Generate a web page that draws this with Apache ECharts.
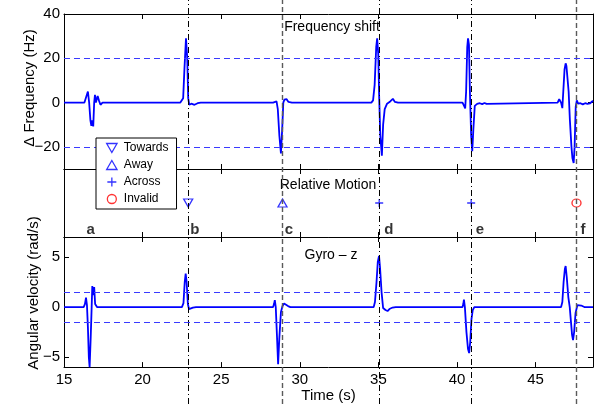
<!DOCTYPE html>
<html>
<head>
<meta charset="utf-8">
<title>Frequency shift / Gyro</title>
<script src="https://cdn.jsdelivr.net/npm/echarts@6/dist/echarts.min.js"></script>
<style>
  html, body { margin: 0; padding: 0; background: #fff; }
  #chart { width: 594px; height: 404px; }
</style>
</head>
<body>
<div id="chart"></div>
<script>
// frequency shift trace, time (s) / shift (Hz)
const freqTime = [15.0, 16.30, 16.40, 16.52, 16.60, 16.68, 16.74, 16.80, 16.86, 16.92, 16.97, 17.03, 17.08, 17.14, 17.22, 17.32, 17.45,
  22.40, 22.50, 22.58, 22.66, 22.76, 22.84, 22.90, 22.97, 23.10, 23.30, 23.50, 23.70,
  28.30, 28.41, 28.52, 28.60, 28.70, 28.80, 28.88, 28.95, 29.02, 29.15, 29.28, 29.50,
  34.55, 34.66, 34.76, 34.86, 34.92, 34.99, 35.05, 35.12, 35.22, 35.30, 35.40, 35.55, 35.75, 35.92, 36.05, 36.25,
  40.35, 40.45, 40.52, 40.58, 40.65, 40.70, 40.76, 40.82, 40.90, 40.97, 41.04, 41.13, 41.28, 41.45, 41.60, 41.75, 41.88, 42.00,
  46.40, 46.50, 46.56, 46.62, 46.70, 46.76, 46.84, 46.91, 46.96, 47.02, 47.10, 47.18, 47.28, 47.34, 47.42, 47.48, 47.55, 47.62,
  47.70, 47.85, 48.00, 48.15, 48.30, 48.45, 48.55, 48.65];
const freqShift = [0, 0, 0.5, 5, 0, -8, -10.5, -8, -10.8, 0, 3.5, 0, 0.5, 3, 1, -1, 0,
  0, -0.6, 2, 15, 29, 20, 2, -1, -0.5, -1.0, -0.3, 0,
  0, 0.8, 0.5, -3, -15, -23, -12, 0, 1.3, 1.6, 0.3, 0,
  0, 1, 8, 25, 29, 22, 2, -15, -24, -10, -3, -0.5, 0.5, 1.7, 0.3, 0,
  0, -1.5, -2.6, 5, 25, 29, 26, 5, -15, -22, -12, -1.5, -0.6, -0.3, -0.7, -0.2, -0.6, 0,
  0, 1.5, 2.0, 0, -2.5, 5, 15, 17.7, 16.5, 17, 5, -8, -20, -25, -27.3, -20, -2, 1,
  -0.5, -0.3, -0.8, -0.3, -0.6, -0.4, 0.2, 0.8];

// gyro z trace, time (s) / angular velocity (rad/s)
const gyroTime = [15.0, 16.25, 16.33, 16.40, 16.46, 16.52, 16.58, 16.63, 16.70, 16.76, 16.80, 16.86, 16.92, 16.98, 17.10,
  22.50, 22.60, 22.68, 22.74, 22.80, 22.88, 22.95, 23.05, 23.20, 23.40,
  28.30, 28.36, 28.41, 28.47, 28.55, 28.62, 28.70, 28.80, 28.90, 29.00, 29.10, 29.25, 29.40,
  34.70, 34.78, 34.88, 34.96, 35.04, 35.10, 35.20, 35.30, 35.45, 35.58, 35.70, 35.90, 36.10,
  40.35, 40.40, 40.44, 40.50, 40.60, 40.70, 40.77, 40.84, 40.92, 41.00, 41.10, 41.20,
  46.62, 46.70, 46.78, 46.86, 46.91, 46.98, 47.08, 47.17, 47.25, 47.32, 47.38, 47.45, 47.54, 47.60, 47.66, 47.75, 47.90, 48.10, 48.65];
const gyroRate = [0, 0, 0.3, 0.95, 0.2, -2, -5, -6, -3, 0, 2.1, 1.2, 2.0, 0.3, 0,
  0, 0.4, 2.5, 3.35, 2.5, 0.3, -0.2, -0.25, -0.05, 0,
  0, 0.3, 0.7, 0, -3, -5.7, -3, -0.5, 0.1, 0.35, 0.2, 0.1, 0,
  0, 0.5, 2.5, 4.5, 5.1, 4, 1.5, -0.1, -0.3, -0.4, -0.2, -0.05, 0,
  0, 0.3, 0.75, 0, -2.5, -4.2, -4.6, -3.5, -1.2, -0.3, 0, 0.05,
  0, 0.5, 2.5, 3.8, 4.1, 3.0, 1.0, 0, -1.5, -2.8, -3.3, -2.5, -0.6, -0.2, 0.2, 0.05, 0.15, 0, 0];

// thresholds (dashed lines)
const freqLimits = [20, -20];
const gyroLimits = [1.5, -1.5];

// events b..f and detected motion
const eventTime = [22.9, 28.9, 35.05, 40.9, 47.6];
const eventMotion = ['Towards', 'Away', 'Across', 'Across', 'Invalid'];
const motionNames = ['Towards', 'Away', 'Across', 'Invalid'];
const eventLetters = ['a', 'b', 'c', 'd', 'e', 'f'];
const letterTime = [16.7, 23.33, 29.31, 35.67, 41.46, 48.02];

// ticks
const xTicks = [15, 20, 25, 30, 35, 40, 45];
const freqTicks = [-20, 0, 20, 40];
const gyroTicks = [-5, 0, 5];

const X_MIN = 15, X_MAX = 48.65;
const FONT = '"Liberation Sans", Arial, Helvetica, sans-serif';
const BLUE = '#0000ff';

const minus = v => String(v).replace('-', '\u2212');
const zip = (xs, ys) => xs.map((x, i) => [x, ys[i]]);

const xAxisFor = (gridIndex, position, labels) => ({
  type: 'value', gridIndex, position, min: X_MIN, max: X_MAX,
  axisLine: { show: true, onZero: false, lineStyle: { color: '#000', width: 1 } },
  axisTick: { show: true, inside: true, length: 5, customValues: xTicks, lineStyle: { color: '#000' } },
  axisLabel: { show: labels, customValues: xTicks, margin: 5, color: '#000', fontSize: 15, fontFamily: FONT },
  splitLine: { show: false }
});

const yAxisFor = (gridIndex, position, min, max, ticks, labels) => ({
  type: 'value', gridIndex, position, min, max,
  axisLine: { show: true, onZero: false, lineStyle: { color: '#000', width: 1 } },
  axisTick: { show: !!ticks, inside: true, length: 5, customValues: ticks || [], lineStyle: { color: '#000' } },
  axisLabel: { show: labels, customValues: ticks || [], margin: 4, color: '#000', fontSize: 15, fontFamily: FONT, formatter: minus },
  splitLine: { show: false }
});

const limitLine = values => ({
  silent: true, symbol: ['none', 'none'], label: { show: false },
  lineStyle: { color: '#3a3aff', type: [6, 4], width: 1 },
  data: values.map(v => ({ yAxis: v }))
});

// motion symbols (outlined)
const motionSymbol = {
  Towards: 'path://M0,0L10,0L5,8.66Z',
  Away: 'path://M5,0L10,8.66L0,8.66Z',
  Across: 'path://M5,0L5,10M0,5L10,5',
  Invalid: 'circle'
};
const motionColor = { Towards: BLUE, Away: BLUE, Across: BLUE, Invalid: '#ff0000' };

const motionSeries = motionNames.map(name => ({
  name, type: 'scatter', xAxisIndex: 2, yAxisIndex: 2,
  symbol: motionSymbol[name], symbolSize: name === 'Across' ? 8 : [9, 8],
  itemStyle: { color: 'transparent', borderColor: motionColor[name], borderWidth: 1.3 },
  data: eventTime.filter((t, i) => eventMotion[i] === name).map(t => [t, 0.5]),
  z: 3
}));

// event lines, b/d/e dash-dot, c/f dashed grey
const grayEvents = [1, 4];
const eventLines = eventTime.map((t, i) => ({
  xAxis: t,
  lineStyle: grayEvents.includes(i)
    ? { color: '#5a5a5a', type: [5, 3], width: 1.4 }
    : { color: '#000', type: [6, 3, 1, 3], width: 1 }
}));

const chart = echarts.init(document.getElementById('chart'));
chart.setOption({
  animation: false,
  backgroundColor: '#fff',
  textStyle: { fontFamily: FONT },
  grid: [
    { left: 64, right: 1, top: 14, height: 155 },
    { left: 64, right: 1, top: 169, height: 68 },
    { left: 64, right: 1, top: 237, height: 136 },
    { left: 64, right: 1, top: 0, height: 404 }
  ],
  xAxis: [
    xAxisFor(0, 'bottom', false), xAxisFor(0, 'top', false),
    xAxisFor(1, 'bottom', false), xAxisFor(1, 'top', false),
    Object.assign(xAxisFor(2, 'bottom', true), {
      name: 'Time (s)', nameLocation: 'middle', nameGap: 17,
      nameTextStyle: { color: '#000', fontSize: 15, fontFamily: FONT }
    }),
    xAxisFor(2, 'top', false),
    { type: 'value', gridIndex: 3, min: X_MIN, max: X_MAX, show: false }
  ],
  yAxis: [
    yAxisFor(0, 'left', -30, 40, freqTicks, true), yAxisFor(0, 'right', -30, 40, freqTicks, false),
    yAxisFor(1, 'left', 0, 1, null, false), yAxisFor(1, 'right', 0, 1, null, false),
    yAxisFor(2, 'left', -6, 7, gyroTicks, true), yAxisFor(2, 'right', -6, 7, gyroTicks, false),
    { type: 'value', gridIndex: 3, min: 0, max: 1, show: false }
  ],
  legend: {
    orient: 'vertical', left: 96, top: 138, z: 20,
    padding: [4, 8, 4, 10], itemGap: 5, itemWidth: 14, itemHeight: 9,
    backgroundColor: '#fff', borderColor: '#000', borderWidth: 1, borderRadius: 0,
    textStyle: { color: '#000', fontSize: 12, lineHeight: 12, fontFamily: FONT },
    selectedMode: false,
    data: motionNames.map(name => ({
      name, icon: motionSymbol[name],
      itemStyle: { color: 'transparent', borderColor: motionColor[name], borderWidth: 1.3 }
    }))
  },
  graphic: [
    { type: 'text', x: 332, y: 27, style: { text: 'Frequency shift', font: '14px ' + FONT, fill: '#000', align: 'center', verticalAlign: 'middle' } },
    { type: 'text', x: 328, y: 185, style: { text: 'Relative Motion', font: '14px ' + FONT, fill: '#000', align: 'center', verticalAlign: 'middle' } },
    { type: 'text', x: 331, y: 255, style: { text: 'Gyro \u2013 z', font: '14px ' + FONT, fill: '#000', align: 'center', verticalAlign: 'middle' } },
    { type: 'text', x: 30, y: 88, rotation: Math.PI / 2, style: { text: '\u0394 Frequency (Hz)', font: '15px ' + FONT, fill: '#000', align: 'center', verticalAlign: 'middle' } },
    { type: 'text', x: 34, y: 293, rotation: Math.PI / 2, style: { text: 'Angular velocity (rad/s)', font: '15px ' + FONT, fill: '#000', align: 'center', verticalAlign: 'middle' } }
  ],
  series: [
    {
      type: 'line', xAxisIndex: 6, yAxisIndex: 6, data: [], silent: true, z: 1,
      markLine: { silent: true, symbol: ['none', 'none'], label: { show: false }, data: eventLines }
    },
    {
      name: 'Frequency shift', type: 'line', xAxisIndex: 0, yAxisIndex: 0,
      data: zip(freqTime, freqShift), showSymbol: false, smooth: false, z: 2,
      lineStyle: { color: BLUE, width: 1.8 },
      markLine: limitLine(freqLimits)
    },
    {
      name: 'Gyro z', type: 'line', xAxisIndex: 4, yAxisIndex: 4,
      data: zip(gyroTime, gyroRate), showSymbol: false, smooth: false, z: 2,
      lineStyle: { color: BLUE, width: 1.8 },
      markLine: limitLine(gyroLimits)
    },
    ...motionSeries,
    {
      type: 'scatter', xAxisIndex: 2, yAxisIndex: 2, symbolSize: 1, silent: true, z: 3,
      itemStyle: { color: 'transparent' },
      label: { show: true, position: 'inside', formatter: '{b}', color: '#000', fontSize: 15, fontWeight: 'bold', fontFamily: FONT },
      data: eventLetters.map((l, i) => ({ name: l, value: [letterTime[i], 0.1] }))
    }
  ]
});
</script>
</body>
</html>
